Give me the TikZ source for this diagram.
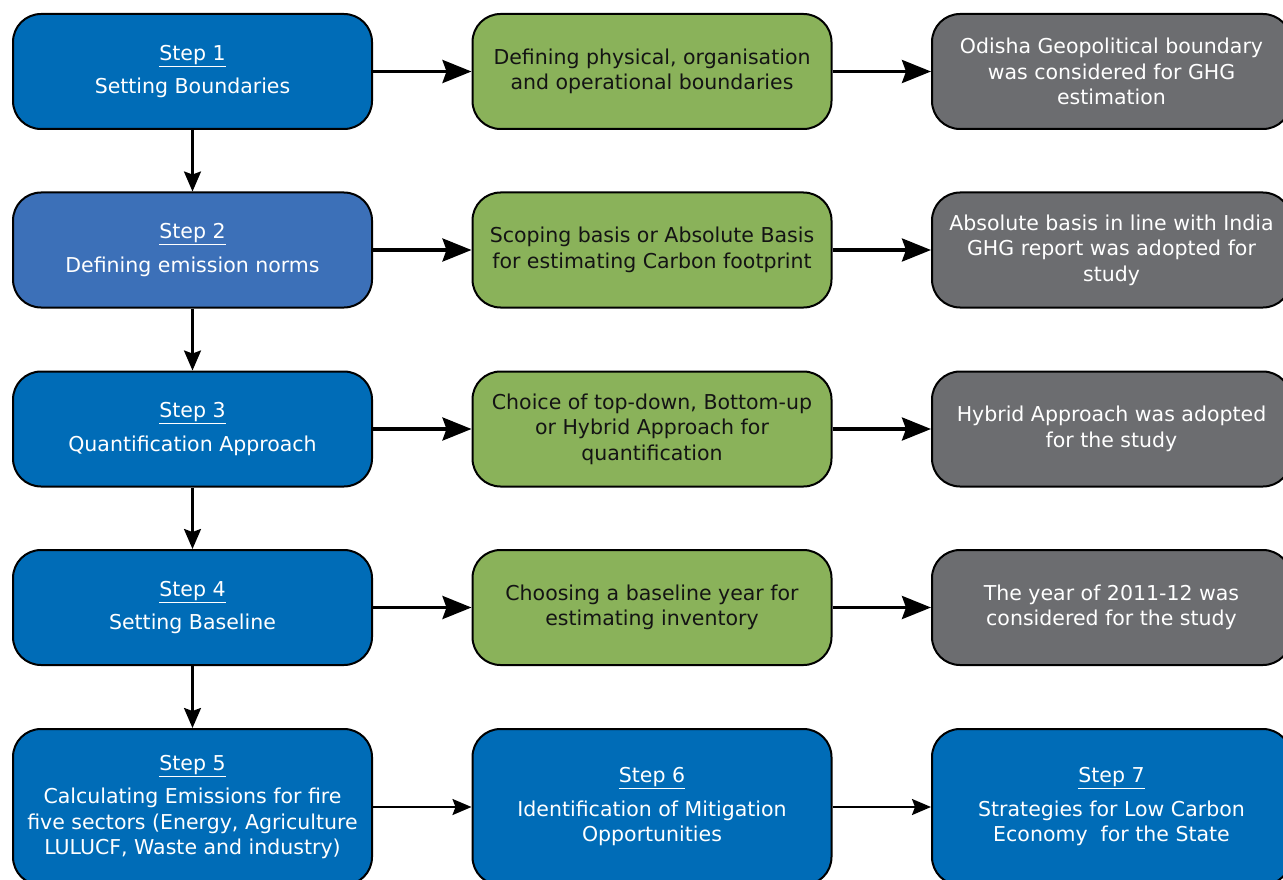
\documentclass[tikz,border=0pt]{standalone}
\usepackage{fontspec}
\setmainfont{DejaVu Sans}
\usetikzlibrary{arrows.meta}
\definecolor{stepblue}{RGB}{0,108,183}
\definecolor{lightblue}{RGB}{60,112,184}
\definecolor{leafgreen}{RGB}{138,178,90}
\definecolor{slategray}{RGB}{108,109,112}
\definecolor{darktext}{RGB}{20,20,20}
\tikzset{
  box/.style={draw=black, line width=2pt, rounded corners=28pt, minimum width=359pt,
    minimum height=115pt, inner sep=0pt, align=center,
    font=\fontsize{20.5}{25.5}\selectfont},
  bluebox/.style={box, fill=stepblue, text=white},
  paleblue/.style={box, fill=lightblue, text=white},
  greenbox/.style={box, fill=leafgreen, text=darktext},
  graybox/.style={box, fill=slategray, text=white},
  bigarrow/.style={line width=3.5pt, -{Stealth[length=29pt,width=23pt,inset=4pt]}},
  downarrow/.style={line width=2.5pt, -{Stealth[length=20pt,width=17pt,inset=3pt]}},
  thinarrow/.style={line width=2pt, -{Stealth[length=19pt,width=16pt,inset=3pt]}}
}
\newcommand{\steplabel}[1]{\underline{Step #1}\\[8pt]}
\begin{document}
\begin{tikzpicture}[x=1pt,y=-1pt]
\useasboundingbox (0,0) rectangle (1283,880);
\clip (0,0) rectangle (1283,880);
% column 1
\node[bluebox] (s1) at (192.5,71.5) {\steplabel{1}Setting Boundaries};
\node[paleblue] (s2) at (192.5,250) {\steplabel{2}Defining emission norms};
\node[bluebox] (s3) at (192.5,429) {\steplabel{3}Quantification Approach};
\node[bluebox] (s4) at (192.5,607.5) {\steplabel{4}Setting Baseline};
\node[bluebox, minimum height=156pt] (s5) at (192.5,807) {\steplabel{5}Calculating Emissions for fire\\five sectors (Energy, Agriculture\\LULUCF, Waste and industry)};
% column 2
\node[greenbox] (g1) at (652,71.5) {Defining physical, organisation\\and operational boundaries};
\node[greenbox] (g2) at (652,250) {Scoping basis or Absolute Basis\\for estimating Carbon footprint};
\node[greenbox] (g3) at (652,429) {Choice of top-down, Bottom-up\\or Hybrid Approach for\\quantification};
\node[greenbox] (g4) at (652,607.5) {Choosing a baseline year for\\estimating inventory};
\node[bluebox, minimum height=156pt] (s6) at (652,807) {\steplabel{6}Identification of Mitigation\\Opportunities};
% column 3
\node[graybox] (r1) at (1111.5,71.5) {Odisha Geopolitical boundary\\was considered for GHG\\estimation};
\node[graybox] (r2) at (1111.5,250) {Absolute basis in line with India\\GHG report was adopted for\\study};
\node[graybox] (r3) at (1111.5,429) {Hybrid Approach was adopted\\for the study};
\node[graybox] (r4) at (1111.5,607.5) {The year of 2011-12 was\\considered for the study};
\node[bluebox, minimum height=156pt] (s7) at (1111.5,807) {\steplabel{7}Strategies for Low Carbon\\Economy\ \ for the State};
% vertical arrows
\draw[downarrow] (s1) -- (s2);
\draw[downarrow] (s2) -- (s3);
\draw[downarrow] (s3) -- (s4);
\draw[downarrow] (s4.south) -- (s5.north);
% horizontal arrows
\draw[bigarrow] (s1) -- (g1);
\draw[bigarrow] (g1) -- (r1);
\draw[bigarrow] (s2) -- (g2);
\draw[bigarrow] (g2) -- (r2);
\draw[bigarrow] (s3) -- (g3);
\draw[bigarrow] (g3) -- (r3);
\draw[bigarrow] (s4) -- (g4);
\draw[bigarrow] (g4) -- (r4);
\draw[thinarrow] (s5) -- (s6);
\draw[thinarrow] (s6) -- (s7);
\end{tikzpicture}
\end{document}
